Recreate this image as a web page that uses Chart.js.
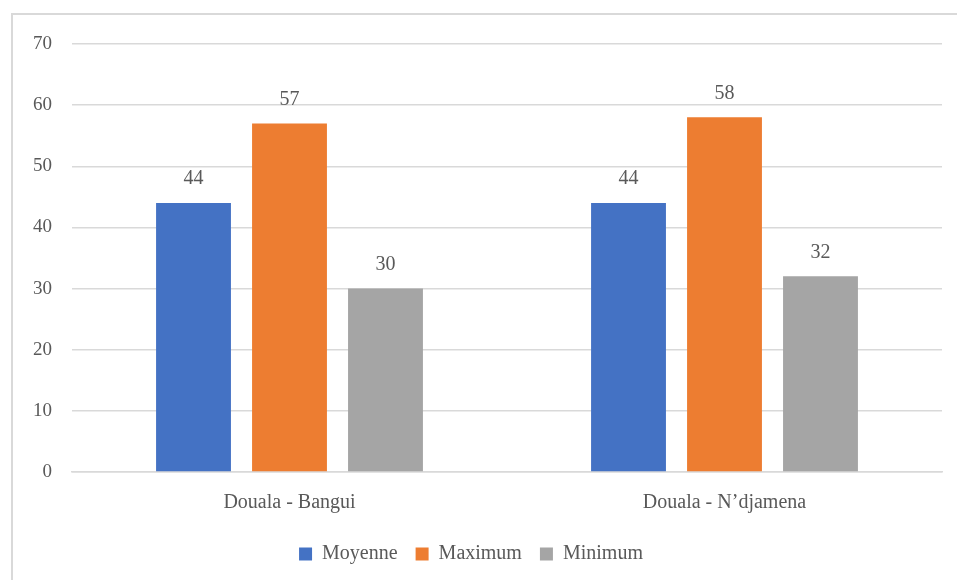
<!DOCTYPE html>
<html>
<head>
<meta charset="utf-8">
<title>Douala</title>
<script src="https://cdn.jsdelivr.net/npm/chart.js"></script>
<style>
  html, body { margin: 0; padding: 0; background: #fff; overflow: hidden; }
  #wrap { position: relative; width: 957px; height: 580px; }
  #frame { position: absolute; left: 11px; top: 13px; width: 980px; height: 620px; border: 2px solid #d9d9d9; box-sizing: border-box; }
  canvas { position: absolute; left: 0; top: 0; }
</style>
</head>
<body>
<div id="wrap">
  <div id="frame"></div>
  <canvas id="chart" width="957" height="580"></canvas>
</div>
<script>
// Routes and series
const routes = ['Douala - Bangui', 'Douala - N\u2019djamena'];
const moyenne = [44, 44];
const maximum = [57, 58];
const minimum = [30, 32];

const textColor = '#595959';
const fontFamily = "'Liberation Serif', 'Times New Roman', serif";

// value written above each bar
const barValues = {
  id: 'barValues',
  afterDatasetsDraw(chart) {
    const ctx = chart.ctx;
    ctx.save();
    ctx.font = '20px ' + fontFamily;
    ctx.fillStyle = textColor;
    ctx.textAlign = 'center';
    ctx.textBaseline = 'bottom';
    chart.data.datasets.forEach((ds, i) => {
      chart.getDatasetMeta(i).data.forEach((bar, j) => {
        ctx.fillText(ds.data[j], bar.x, bar.y - 14);
      });
    });
    ctx.restore();
  }
};

new Chart(document.getElementById('chart').getContext('2d'), {
  type: 'bar',
  data: {
    labels: routes,
    datasets: [
      { label: 'Moyenne', data: moyenne, backgroundColor: '#4472C4' },
      { label: 'Maximum', data: maximum, backgroundColor: '#ED7D31' },
      { label: 'Minimum', data: minimum, backgroundColor: '#A5A5A5' }
    ]
  },
  options: {
    responsive: false,
    animation: false,
    datasets: {
      bar: { categoryPercentage: 0.662, barPercentage: 0.78 }
    },
    layout: { padding: { top: 44, right: 15, bottom: 6, left: 0 } },
    scales: {
      x: {
        grid: { display: false },
        border: { color: '#d9d9d9', width: 1.5 },
        ticks: { color: textColor, font: { family: fontFamily, size: 20 }, padding: 11 }
      },
      y: {
        min: 0,
        max: 70,
        afterFit(scale) { scale.width = 72; },
        grid: { color: '#d9d9d9', lineWidth: 1.5, drawTicks: false },
        border: { display: false },
        ticks: { stepSize: 10, color: textColor, font: { family: fontFamily, size: 19 }, padding: 20 }
      }
    },
    plugins: {
      legend: {
        position: 'bottom',
        labels: {
          boxWidth: 13,
          boxHeight: 13,
          padding: 18,
          color: textColor,
          font: { family: fontFamily, size: 20 }
        }
      },
      tooltip: { enabled: false }
    }
  },
  plugins: [barValues]
});
</script>
</body>
</html>
